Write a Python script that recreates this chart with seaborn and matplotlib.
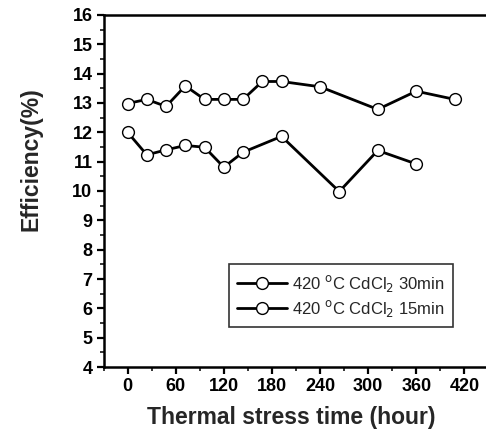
import matplotlib
matplotlib.use("Agg")
import matplotlib.pyplot as plt
from matplotlib.ticker import MultipleLocator
import seaborn as sns

# -----------------------------
# DATA
# -----------------------------
hours_30 = [0, 24, 48, 72, 96, 120, 144, 168, 192, 240, 312, 360, 408]
eff_30 = [12.98, 13.12, 12.88, 13.58, 13.12, 13.12, 13.12, 13.73, 13.73, 13.55, 12.78, 13.40, 13.12]

hours_15 = [0, 24, 48, 72, 96, 120, 144, 192, 264, 312, 360]
eff_15 = [12.0, 11.23, 11.40, 11.55, 11.49, 10.81, 11.32, 11.86, 9.98, 11.38, 10.92]

label_30 = r"420 $^{\mathrm{o}}$C CdCl$_2$ 30min"
label_15 = r"420 $^{\mathrm{o}}$C CdCl$_2$ 15min"

# -----------------------------
# STYLE
# -----------------------------
sns.set_style("ticks")
plt.rcParams["font.family"] = ["Liberation Sans", "DejaVu Sans"]

fig = plt.figure(figsize=(4.86, 4.37), dpi=100)
ax = fig.add_axes([0.213, 0.160, 0.787, 0.806])

line_kw = dict(color="black", linewidth=2.0, marker="o", markersize=8.5,
               markerfacecolor="white", markeredgecolor="black",
               markeredgewidth=1.0)

sns.lineplot(x=hours_30, y=eff_30, ax=ax, label=label_30, **line_kw)
sns.lineplot(x=hours_15, y=eff_15, ax=ax, label=label_15, **line_kw)

# -----------------------------
# AXES
# -----------------------------
ax.set_xlim(-30, 447)
ax.set_ylim(4, 16)
ax.xaxis.set_major_locator(MultipleLocator(60))
ax.xaxis.set_minor_locator(MultipleLocator(30))
ax.yaxis.set_major_locator(MultipleLocator(1))
ax.yaxis.set_minor_locator(MultipleLocator(0.5))

ax.tick_params(which="major", direction="out", length=5, width=1.6,
               labelsize=13, pad=3, colors="black")
ax.tick_params(which="minor", direction="out", length=3, width=1.3)
for lab in ax.get_xticklabels() + ax.get_yticklabels():
    lab.set_fontweight("bold")

for side in ["left", "bottom", "top"]:
    ax.spines[side].set_linewidth(1.8)
    ax.spines[side].set_color("black")
ax.spines["right"].set_visible(False)

ax.set_xlabel("Thermal stress time (hour)", fontsize=16.5, fontweight="bold")
ax.set_ylabel("Efficiency(%)", fontsize=16.5, fontweight="bold")
ax.xaxis.set_label_coords(0.49, -0.11)
ax.yaxis.set_label_coords(-0.16, 0.59)

leg = ax.legend(loc="lower left", bbox_to_anchor=(0.305, 0.09), fontsize=12,
                frameon=True, fancybox=False, edgecolor="black",
                handlelength=3.0, handletextpad=0.3, borderpad=0.5,
                labelspacing=0.25)
leg.get_frame().set_linewidth(1.2)

fig.savefig("out.png", dpi=100)
